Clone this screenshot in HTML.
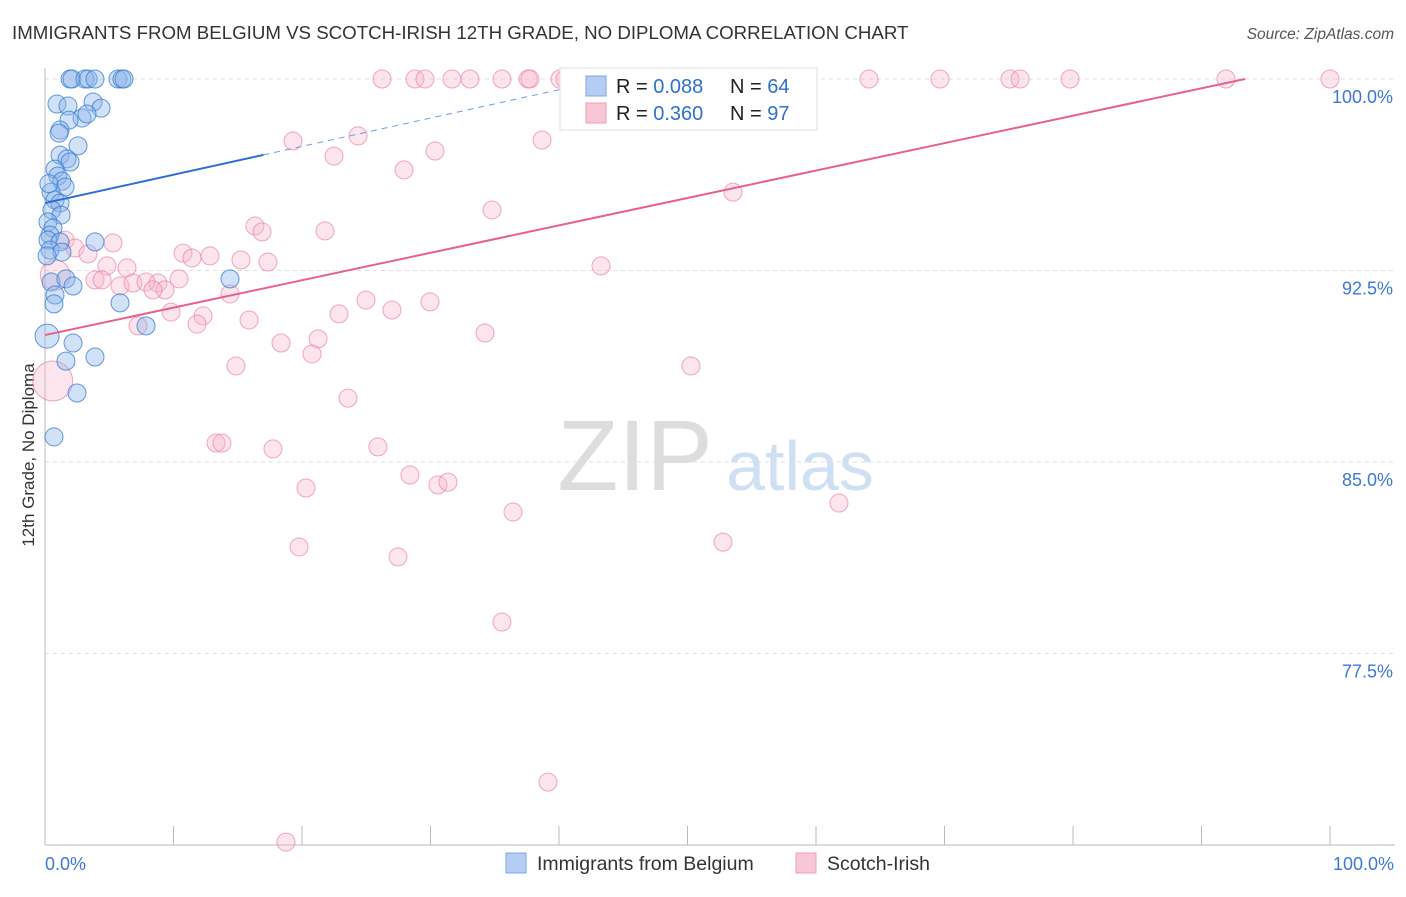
<!DOCTYPE html>
<html><head><meta charset="utf-8"><style>
body{margin:0;background:#fff;font-family:"Liberation Sans",sans-serif}
svg text{font-family:"Liberation Sans",sans-serif}
</style></head><body>
<svg id="c" width="1406" height="892" xmlns="http://www.w3.org/2000/svg">
<text x="12" y="39" font-size="18.7" fill="#333">IMMIGRANTS FROM BELGIUM VS SCOTCH-IRISH 12TH GRADE, NO DIPLOMA CORRELATION CHART</text>
<text x="1394" y="39" font-size="15.5" fill="#555" font-style="italic" text-anchor="end">Source: ZipAtlas.com</text>
<text x="34" y="455" font-size="17" fill="#333" text-anchor="middle" transform="rotate(-90 34 455)">12th Grade, No Diploma</text>
<g><text x="635" y="490" font-size="100" font-family="Liberation Serif" fill="#ddd" text-anchor="middle">ZIP</text><text x="800" y="490" font-size="70" fill="#cfe0f3" text-anchor="middle">atlas</text></g>
<g id="grid"></g><g id="axes"></g><g id="pts"></g><g id="lines"></g>
<g>
<rect x="560" y="68" width="257" height="62" fill="#fff" stroke="#ddd"/>
<rect x="586" y="76" width="20" height="20" fill="#b5cdf3" stroke="#7fa8e8"/>
<rect x="586" y="103" width="20" height="20" fill="#f9c6d5" stroke="#ef9fb7"/>
<text x="616" y="93" font-size="20" fill="#222">R = <tspan fill="#2f6fd0">0.088</tspan></text>
<text x="730" y="93" font-size="20" fill="#222">N = <tspan fill="#2f6fd0">64</tspan></text>
<text x="616" y="120" font-size="20" fill="#222">R = <tspan fill="#2f6fd0">0.360</tspan></text>
<text x="730" y="120" font-size="20" fill="#222">N = <tspan fill="#2f6fd0">97</tspan></text>
</g>
<g>
<rect x="506" y="853" width="20" height="20" fill="#b5cdf3" stroke="#7fa8e8"/>
<text x="537" y="870" font-size="19.5" fill="#333">Immigrants from Belgium</text>
<rect x="796" y="853" width="20" height="20" fill="#f9c6d5" stroke="#ef9fb7"/>
<text x="827" y="870" font-size="19.5" fill="#333">Scotch-Irish</text>
</g>
</svg>
<script>
const yTicks=[100,92.5,85,77.5];
const yTickLabels=["100.0%","92.5%","85.0%","77.5%"];
const xTickLabels=["0.0%","100.0%"];
const blueX=[1.95,2.1,3.11,3.35,3.89,5.68,5.99,6.15,0.93,1.79,3.74,2.88,1.87,4.36,3.27,1.17,1.09,2.57,1.17,1.71,1.95,0.78,1.0,1.32,1.56,0.47,0.78,1.17,0.54,1.25,0.23,0.62,0.39,0.23,1.17,3.89,0.39,1.32,0.47,1.63,2.18,0.78,0.7,5.84,14.4,7.86,2.18,3.89,1.63,0.16,2.49,0.7,0.16,0.3];
const blueY=[100,100,100,100,100,100,100,100,99.02,98.94,99.1,98.47,98.39,98.86,98.63,98.0,97.88,97.38,97.02,96.87,96.75,96.47,96.2,96.0,95.77,95.57,95.26,95.14,94.87,94.67,94.4,94.16,93.89,93.69,93.62,93.62,93.3,93.22,92.05,92.17,91.89,91.54,91.19,91.23,92.17,90.33,89.66,89.11,88.95,89.93,87.7,85.98,93.07,95.9];
const pinkX=[26.23,28.79,29.57,31.67,33.07,35.56,37.59,37.74,40.08,40.47,41.25,46.07,50.97,51.52,56.03,64.12,69.65,75.1,75.88,79.77,91.91,100,19.3,24.36,22.49,30.35,38.68,27.94,53.54,34.79,16.34,16.89,21.79,5.29,1.56,2.33,3.35,10.74,11.44,12.84,15.25,17.35,4.82,6.38,43.27,3.89,4.44,5.84,6.85,7.86,8.79,9.34,10.43,8.4,14.4,24.98,29.96,27.0,22.88,12.3,9.81,15.88,11.83,7.24,34.24,21.25,18.37,20.78,14.86,50.27,23.58,13.31,13.77,17.74,25.91,28.4,30.58,31.36,20.31,61.79,36.42,19.77,52.76,27.47,35.56,39.14,18.75,0.6,0.8];
const pinkY=[100,100,100,100,100,100,100,100,100,100,100,100,100,100,100,100,100,100,100,100,100,100,97.57,97.77,96.98,97.18,97.61,96.44,95.57,94.87,94.24,94.01,94.05,93.58,93.69,93.38,93.15,93.18,92.99,93.07,92.91,92.83,92.68,92.6,92.68,92.13,92.13,91.89,92.01,92.05,92.01,91.74,92.17,91.74,91.58,91.34,91.27,90.95,90.8,90.72,90.87,90.56,90.4,90.33,90.05,89.82,89.66,89.23,88.76,88.76,87.5,85.74,85.74,85.51,85.59,84.49,84.1,84.21,83.98,83.39,83.04,81.67,81.86,81.28,78.73,72.46,70.11,88.17,92.32];
const blueTrend=[95.14,0.111];
const pinkTrend=[89.97,0.1074];
const NS="http://www.w3.org/2000/svg";
const X=v=>45+v*12.85, Y=v=>79+(100-v)*25.53;
function mk(t,a,p){const e=document.createElementNS(NS,t);for(const k in a)e.setAttribute(k,a[k]);p.appendChild(e);return e;}
const grid=document.getElementById('grid'),axes=document.getElementById('axes'),pts=document.getElementById('pts'),lines=document.getElementById('lines');
yTicks.forEach((t,i)=>{
 const l=mk('line',{x1:45,x2:1395,y1:Y(t),y2:Y(t),stroke:'#ddd','stroke-dasharray':'4,4'},grid);
 
 
 const tx=mk('text',{x:1393,y:Y(t)+24,'font-size':18,fill:'#3b78d8','text-anchor':'end'},axes);
 tx.textContent=yTickLabels[i];
 
 
});
const ax=mk('line',{x1:45,x2:1395,y1:845,y2:845,stroke:'#bbb'},axes);


const ay=mk('line',{x1:45,x2:45,y1:68,y2:845,stroke:'#bbb'},axes);


for(let i=0;i<=10;i++){const tk=mk('line',{x1:X(i*10),x2:X(i*10),y1:826,y2:845,stroke:'#bbb'},axes);
 
 }
[[0,'start',45],[100,'end',1394]].forEach((d,i)=>{const t=mk('text',{x:d[2],y:870,'font-size':18,fill:'#3b78d8','text-anchor':d[1]},axes);t.textContent=xTickLabels[i];
 
 });
pinkX.forEach((x,i)=>{const r=i==pinkX.length-2?20:(i==pinkX.length-1?15:9);
 const c=mk('circle',{cx:X(x),cy:Y(pinkY[i]),r:r,fill:'rgba(247,180,200,0.35)',stroke:'rgba(236,130,165,0.7)','stroke-width':1},pts);
 
 });
blueX.forEach((x,i)=>{const r=i==blueX.length-5?12:9;
 const c=mk('circle',{cx:X(x),cy:Y(blueY[i]),r:r,fill:'rgba(140,180,235,0.4)',stroke:'rgba(50,120,210,0.75)','stroke-width':1},pts);
 
 });
const b1=mk('line',{x1:X(0),y1:Y(blueTrend[0]),x2:X(17),y2:Y(blueTrend[0]+17*blueTrend[1]),stroke:'#2b6fd6','stroke-width':2},lines);


const xe=(100-blueTrend[0])/blueTrend[1];
const b2=mk('line',{x1:X(17),y1:Y(blueTrend[0]+17*blueTrend[1]),x2:X(xe),y2:Y(100),stroke:'#6c9de6','stroke-width':1,'stroke-dasharray':'6,5'},lines);


const pe=(100-pinkTrend[0])/pinkTrend[1];
const p1=mk('line',{x1:X(0),y1:Y(pinkTrend[0]),x2:X(pe),y2:Y(100),stroke:'#e8608c','stroke-width':2},lines);


</script>
</body></html>
